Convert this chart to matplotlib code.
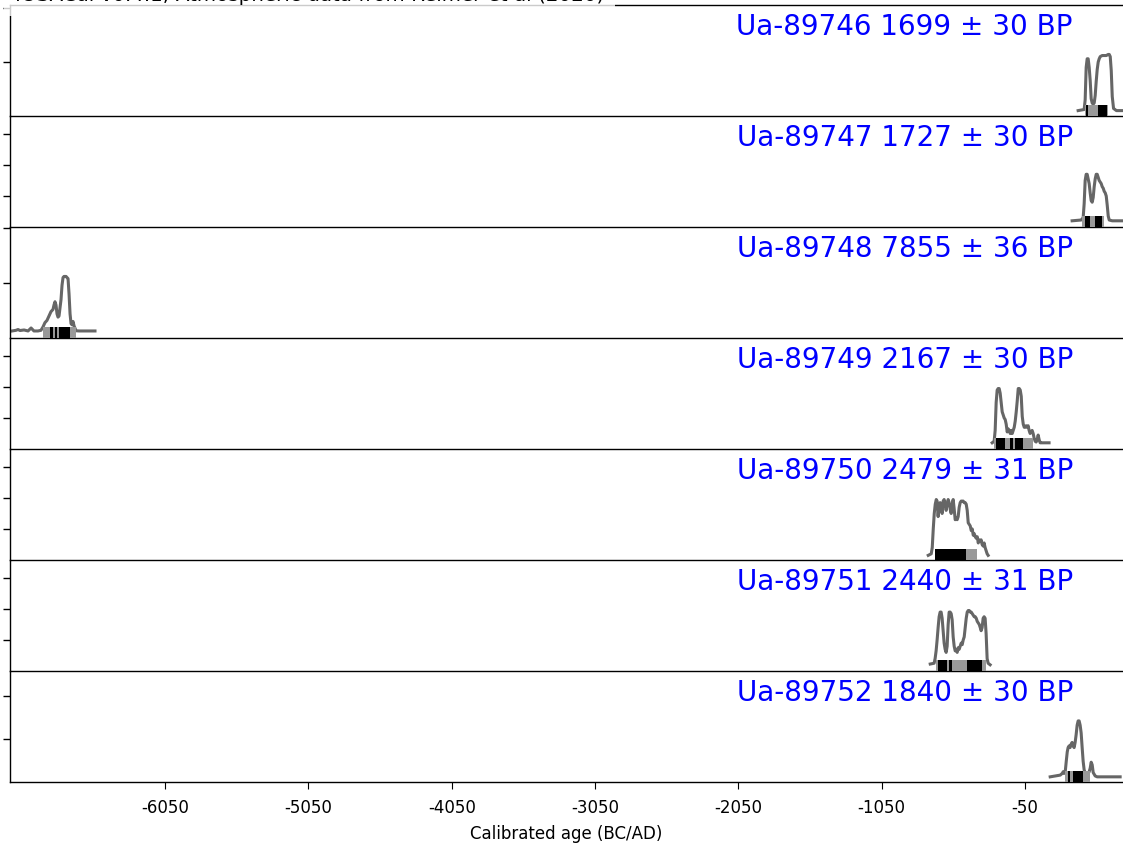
import numpy as np
import matplotlib
matplotlib.use("Agg")
import matplotlib.pyplot as plt

# calibrated probability curves, one per sample (years BC/AD, probability)
labels = ["Ua-89746 1699 ± 30 BP", "Ua-89747 1727 ± 30 BP", "Ua-89748 7855 ± 36 BP",
          "Ua-89749 2167 ± 30 BP", "Ua-89750 2479 ± 31 BP", "Ua-89751 2440 ± 31 BP",
          "Ua-89752 1840 ± 30 BP"]

years_746 = [321, 363, 370, 377, 384, 391, 398, 405, 412, 419, 426, 433, 440, 447, 454, 461,
             468, 475, 489, 503, 517, 531, 538, 545, 552, 559, 568, 588, 630]
prob_746 = [0.0005, 0.0006, 0.0015, 0.0045, 0.0053, 0.0053, 0.0045, 0.0033, 0.0016, 0.0012,
            0.0011, 0.0012, 0.0019, 0.0032, 0.0043, 0.0050, 0.0053, 0.0055, 0.0056, 0.0056,
            0.0056, 0.0057, 0.0057, 0.0055, 0.0042, 0.0018, 0.0007, 0.0005, 0.0005]

years_747 = [279, 342, 356, 363, 370, 377, 384, 391, 398, 405, 412, 419, 426, 433, 440, 447,
             454, 461, 468, 475, 482, 489, 496, 503, 510, 517, 524, 531, 538, 559, 630]
prob_747 = [0.0004, 0.00045, 0.0006, 0.0015, 0.0030, 0.0034, 0.0034, 0.0031, 0.0028, 0.0022,
            0.0017, 0.0016, 0.0019, 0.0026, 0.0031, 0.0034, 0.0034, 0.0032, 0.0030, 0.0029,
            0.0028, 0.0026, 0.0025, 0.0023, 0.0022, 0.0020, 0.0014, 0.0007, 0.00045, 0.0004,
            0.0004]

years_748 = [-7118, -7090, -7076, -7062, -7034, -7006, -6985, -6965, -6937, -6916, -6902, -6888,
             -6874, -6860, -6846, -6832, -6825, -6818, -6811, -6804, -6797, -6790, -6776,
             -6769, -6762, -6755, -6741, -6734, -6727, -6720, -6713, -6706, -6699, -6692,
             -6685, -6671, -6650, -6539]
prob_748 = [0.00064, 0.00070, 0.00077, 0.00068, 0.00073, 0.00064, 0.00091, 0.00064, 0.00064,
            0.00070, 0.0010, 0.0014, 0.0016, 0.0020, 0.0024, 0.0026, 0.0030, 0.0033, 0.0030,
            0.0022, 0.0019, 0.0020, 0.0035, 0.0048, 0.0055, 0.0056, 0.0056, 0.0055, 0.0054,
            0.0040, 0.0022, 0.0013, 0.0012, 0.0015, 0.0011, 0.00066, 0.00064, 0.00064]

years_749 = [-279, -265, -258, -251, -244, -237, -230, -223, -216, -209, -202, -195, -188,
             -181, -174, -167, -160, -153, -146, -139, -132, -125, -118, -111, -104, -97,
             -90, -83, -76, -69, -62, -55, -49, -42, -35, -28, -21, -14, -7, 0, 7, 14, 21,
             28, 35, 42, 49, 56, 63, 118]
prob_749 = [0.0004, 0.0005, 0.0012, 0.0030, 0.0038, 0.0039, 0.0039, 0.0036, 0.0030, 0.0024,
            0.0022, 0.0020, 0.0019, 0.0016, 0.0011, 0.0013, 0.0012, 0.0010, 0.0012, 0.0010,
            0.0012, 0.0014, 0.0018, 0.0024, 0.0031, 0.0039, 0.0039, 0.0038, 0.0034, 0.0021,
            0.0016, 0.0014, 0.0014, 0.0015, 0.0014, 0.0015, 0.0012, 0.0010, 0.0011, 0.0012,
            0.0010, 0.0007, 0.0005, 0.00045, 0.0006, 0.0009, 0.0006, 0.0004, 0.0004, 0.0004]

years_750 = [-725, -704, -697, -690, -683, -676, -669, -663, -656, -649, -642, -635, -628,
             -621, -614, -607, -600, -593, -586, -579, -572, -565, -558, -551, -544, -537,
             -530, -523, -516, -509, -502, -495, -488, -481, -474, -467, -460, -453, -446,
             -439, -432, -425, -418, -411, -404, -397, -390, -383, -376, -369, -362, -356,
             -349, -342, -335, -328, -321, -314, -307]
prob_750 = [0.0003, 0.0004, 0.0008, 0.0020, 0.0030, 0.0036, 0.0039, 0.0038, 0.0028, 0.0036,
            0.0037, 0.0033, 0.0030, 0.0038, 0.0039, 0.0036, 0.0032, 0.0036, 0.0039, 0.0037,
            0.0033, 0.0030, 0.0036, 0.0039, 0.0033, 0.0026, 0.0027, 0.0026, 0.0028, 0.0034,
            0.0037, 0.0038, 0.0038, 0.0038, 0.0037, 0.0037, 0.0036, 0.0032, 0.0024, 0.0023,
            0.0022, 0.0019, 0.0020, 0.0016, 0.0017, 0.0015, 0.0014, 0.0015, 0.0011, 0.0013,
            0.0012, 0.0013, 0.0010, 0.0009, 0.0011, 0.0008, 0.0006, 0.0004, 0.0003]

years_751 = [-711, -684, -677, -670, -663, -656, -649, -642, -635, -628, -621, -614, -607,
             -600, -593, -586, -579, -572, -565, -558, -551, -544, -537, -530, -523, -516,
             -509, -502, -495, -488, -481, -474, -467, -460, -453, -446, -439, -432, -425,
             -418, -411, -404, -397, -390, -383, -376, -369, -362, -356, -349, -342, -335,
             -328, -321, -314, -307, -293]
prob_751 = [0.00045, 0.0005, 0.0008, 0.0013, 0.0020, 0.0028, 0.0035, 0.0038, 0.0038, 0.0034,
            0.0026, 0.0018, 0.0014, 0.0012, 0.0016, 0.0030, 0.0038, 0.0038, 0.0037, 0.0033,
            0.0022, 0.0016, 0.0013, 0.0014, 0.0012, 0.0015, 0.0014, 0.0016, 0.0018, 0.0017,
            0.0020, 0.0022, 0.0028, 0.0034, 0.0038, 0.0039, 0.0039, 0.0038, 0.0038, 0.0037,
            0.0036, 0.0035, 0.0035, 0.0034, 0.0032, 0.0031, 0.0030, 0.0028, 0.0026, 0.0028,
            0.0034, 0.0035, 0.0034, 0.0024, 0.0008, 0.0005, 0.0004]

years_752 = [126, 196, 210, 217, 224, 231, 238, 245, 251, 258, 265, 272, 279, 286, 293, 300,
             307, 314, 321, 328, 335, 342, 349, 356, 363, 370, 377, 391, 398, 405, 412, 419,
             426, 440, 454, 524, 614]
prob_752 = [0.0006, 0.0008, 0.0010, 0.0012, 0.0010, 0.0012, 0.0024, 0.0035, 0.0040, 0.0042,
            0.0040, 0.0044, 0.0046, 0.0042, 0.0040, 0.0046, 0.0055, 0.0066, 0.0071, 0.0071,
            0.0066, 0.0057, 0.0040, 0.0024, 0.0014, 0.0011, 0.0010, 0.0010, 0.0012, 0.0016,
            0.0023, 0.0020, 0.0011, 0.0007, 0.0006, 0.0006, 0.0006]

# 2 sigma (grey) and 1 sigma (black) ranges
sigma2 = [[(370, 531)], [(349, 503)], [(-6902, -6671)], [(-265, 7)], [(-677, -383)],
          [(-670, -321)], [(231, 405)]]
sigma1 = [[(377, 391), (461, 524)],
          [(370, 405), (440, 489)],
          [(-6853, -6832), (-6818, -6804), (-6790, -6713)],
          [(-251, -188), (-153, -132), (-118, -62)],
          [(-677, -460)],
          [(-656, -593), (-579, -558), (-453, -349)],
          [(251, 265), (286, 356)]]

# per-panel y range and tick step
ytops = [0.01028, 0.00716, 0.0101, 0.00716, 0.00716, 0.00716, 0.0129]
ysteps = [0.005, 0.002, 0.005, 0.002, 0.002, 0.002, 0.005]

xticks = [-6050, -5050, -4050, -3050, -2050, -1050, -50]

curves = [(years_746, prob_746), (years_747, prob_747), (years_748, prob_748),
          (years_749, prob_749), (years_750, prob_750), (years_751, prob_751),
          (years_752, prob_752)]

fig, axes = plt.subplots(7, 1, sharex=True, figsize=(11.23, 8.48), dpi=100,
                         gridspec_kw={"hspace": 0})
fig.subplots_adjust(left=10 / 1123, right=1.0, top=1 - 5 / 848, bottom=1 - 782 / 848)

for i, ax in enumerate(axes):
    yrs, p = curves[i]
    ax.patch.set_visible(False)
    ax.plot(yrs, p, color="#666666", lw=2.2, zorder=2, solid_joinstyle="round")
    for lo, hi in sigma2[i]:
        ax.axvspan(lo, hi, ymin=0, ymax=0.1, color="#999999", lw=0, zorder=3)
    for lo, hi in sigma1[i]:
        ax.axvspan(lo, hi, ymin=0, ymax=0.1, color="black", lw=0, zorder=4)
    ax.set_ylim(0, ytops[i])
    ax.set_yticks(np.arange(ysteps[i], ytops[i], ysteps[i]))
    ax.set_yticklabels([])
    ax.tick_params(axis="y", length=5, width=1)
    for side in ("left", "bottom", "top"):
        ax.spines[side].set_linewidth(1.0)
    ax.spines["right"].set_visible(False)
    if i > 0:
        ax.spines["top"].set_visible(False)
    ax.text(0.955, 0.925, labels[i], transform=ax.transAxes, ha="right", va="top",
            color="blue", fontsize=20)
    if i < 6:
        ax.tick_params(axis="x", bottom=False)

ax = axes[-1]
ax.set_xlim(-7132, 634)
ax.set_xticks(xticks)
ax.set_xticklabels([str(t) for t in xticks], fontsize=12)
ax.tick_params(axis="x", length=5, pad=7)
ax.set_xlabel("Calibrated age (BC/AD)", fontsize=12, labelpad=6)

fig.text(15 / 1123, 1 - 1 / 848, "IOSACal v0.4.1; Atmospheric data from Reimer et al (2020)",
         fontsize=14.3, va="baseline", ha="left",
         bbox=dict(facecolor="white", edgecolor="none", alpha=0.8, pad=8))

fig.savefig("out.png", dpi=100)
